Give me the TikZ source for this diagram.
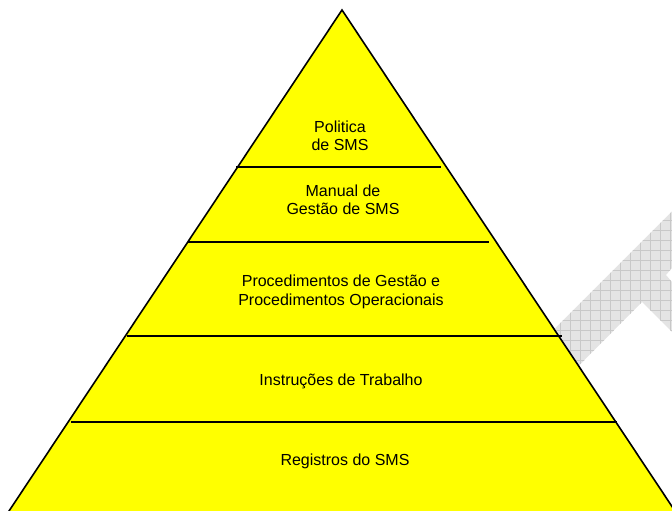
\documentclass[tikz,border=0pt]{standalone}
\usepackage{fontspec}
\setmainfont{Liberation Sans}
\definecolor{pyryellow}{RGB}{255,255,0}
\definecolor{wmgray}{RGB}{228,228,228}
\definecolor{wmline}{RGB}{200,200,200}
\tikzset{
  level/.style={align=center, font=\fontsize{16}{18.3}\selectfont, inner sep=0pt},
  sepline/.style={line width=1.6pt}
}
\begin{document}
\begin{tikzpicture}[x=1pt, y=-1pt]
\useasboundingbox (0,0) rectangle (672,511);
% gray watermark behind the pyramid
\begin{scope}
  \clip (530,353.4) -- (672,211.4) -- (672,268) -- (666,275) -- (672,282)
        -- (672,332) -- (642,302) -- (560,384.7) -- cycle;
  \fill[wmgray] (520,200) rectangle (672,400);
  \foreach \x in {520,530,...,670}
    \draw[wmline, line width=0.6pt] (\x,200) -- (\x,400);
  \foreach \y in {200,210,...,400}
    \draw[wmline, line width=0.6pt] (520,\y) -- (672,\y);
\end{scope}
% pyramid, its base just below the page edge
\draw[fill=pyryellow, line width=1.6pt] (342,10) -- (677,514) -- (7,514) -- cycle;
\foreach \y/\xa/\xb in {167/236/441, 242/188/489, 336/127/562, 422/71/617}
  \draw[sepline] (\xa,\y) -- (\xb,\y);
\node[level] (politica) at (340,136) {Politica\\de SMS};
\node[level] (manual) at (343,200) {Manual de\\Gestão de SMS};
\node[level] (procedimentos) at (341,292) {Procedimentos de Gestão e\\Procedimentos Operacionais};
\node[level] (instrucoes) at (341,381) {Instruções de Trabalho};
\node[level] (registros) at (345,461) {Registros do SMS};
\end{tikzpicture}
\end{document}
